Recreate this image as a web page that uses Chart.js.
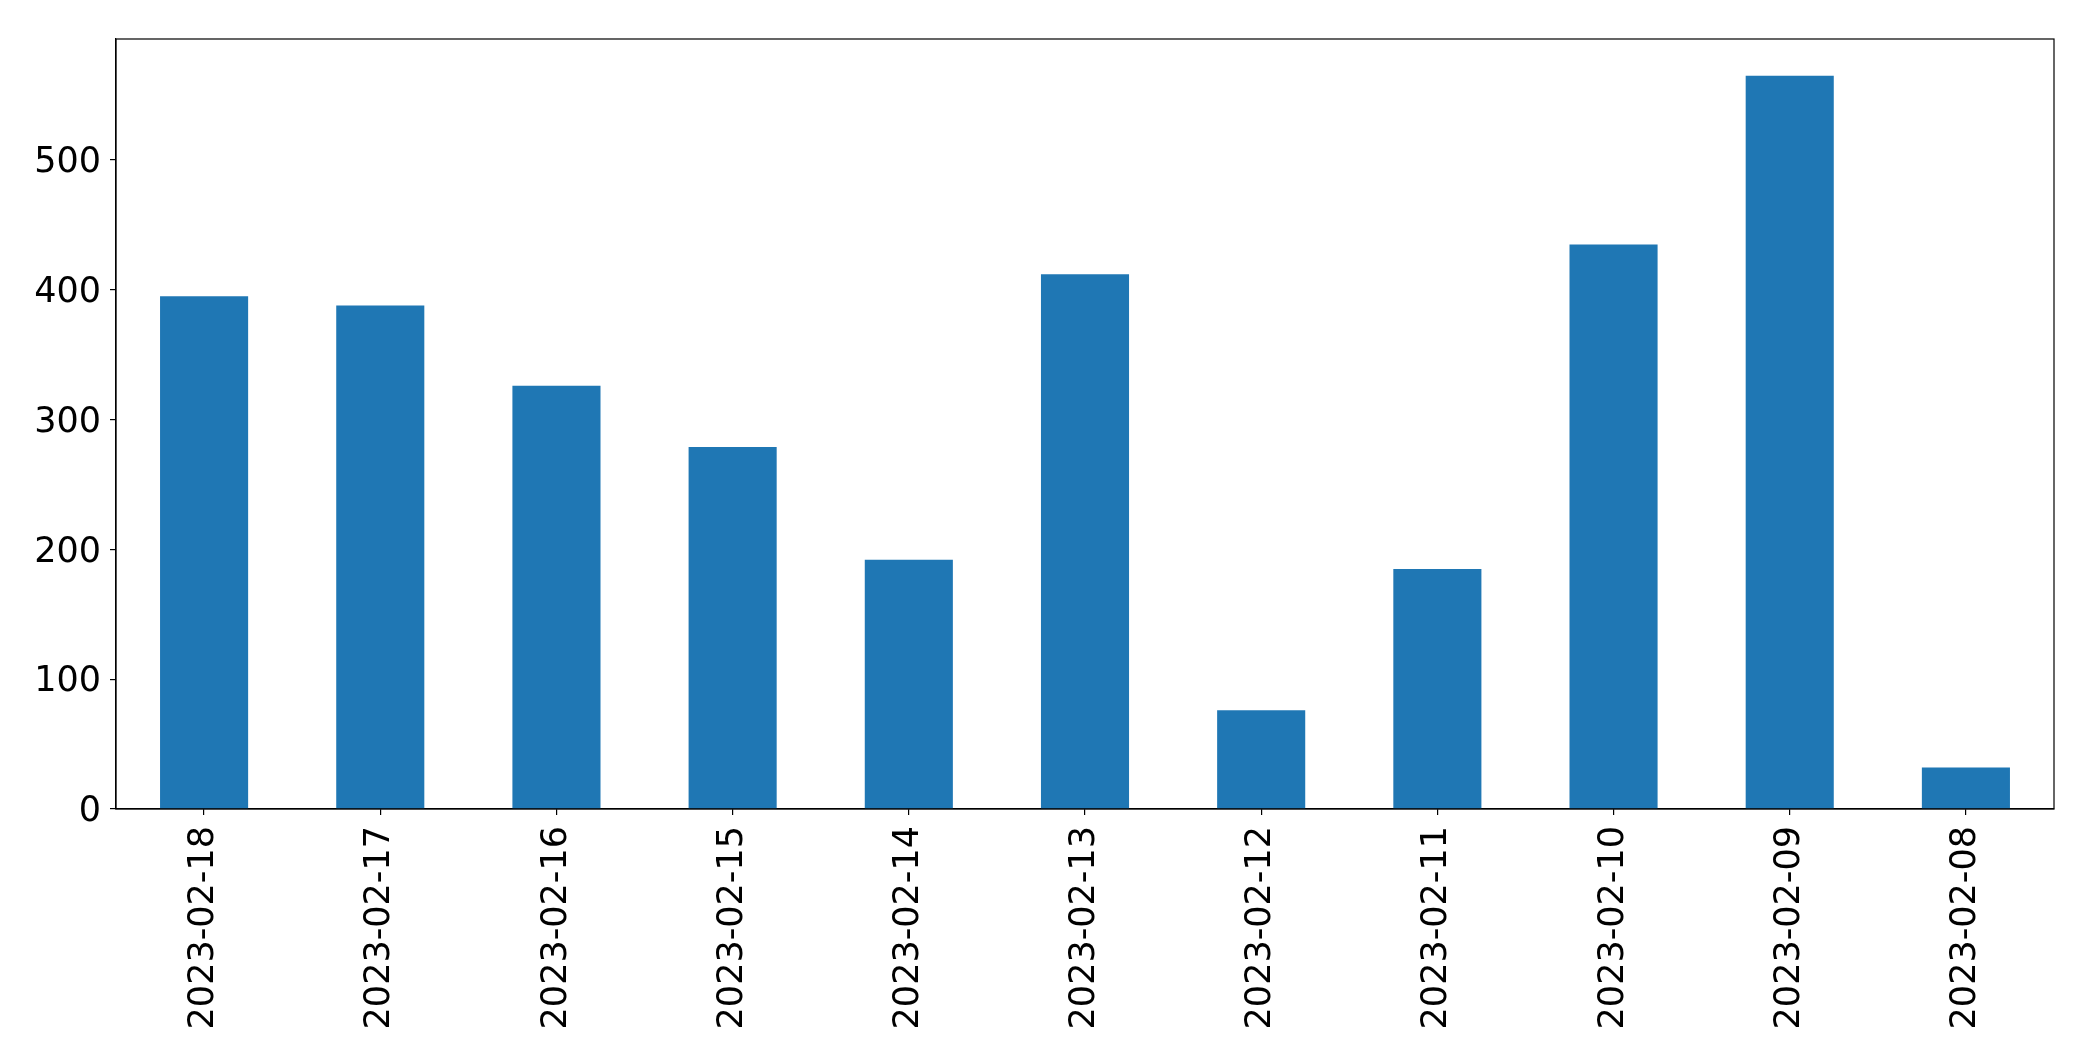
<!DOCTYPE html>
<html>
<head>
<meta charset="utf-8">
<script src="https://cdn.jsdelivr.net/npm/chart.js@4/dist/chart.umd.min.js"></script>
<style>
html,body{margin:0;padding:0;background:#fff;}
#c{display:block;}
</style>
</head>
<body>
<canvas id="c" width="2093" height="1061"></canvas>
<script>
const categories = ["2023-02-18","2023-02-17","2023-02-16","2023-02-15","2023-02-14","2023-02-13","2023-02-12","2023-02-11","2023-02-10","2023-02-09","2023-02-08"];
const values = [395, 388, 326, 279, 192, 412, 76, 185, 435, 565, 32];
const yTicks = [0, 100, 200, 300, 400, 500];

const frame = {
  id: 'frame',
  afterDatasetsDraw(chart) {
    const a = chart.chartArea, ctx = chart.ctx;
    ctx.save();
    ctx.strokeStyle = '#000';
    ctx.lineWidth = 1.2;
    ctx.strokeRect(a.left, a.top, a.right - a.left, a.bottom - a.top);
    ctx.restore();
  }
};

Chart.defaults.font.family = '"DejaVu Sans", sans-serif';
Chart.defaults.color = '#000';

new Chart(document.getElementById('c'), {
  type: 'bar',
  data: {
    labels: categories,
    datasets: [{
      data: values,
      backgroundColor: '#1f77b4',
      borderWidth: 0,
      barPercentage: 0.5,
      categoryPercentage: 1.0
    }]
  },
  options: {
    responsive: false,
    animation: false,
    layout: { padding: { top: 39, right: 39, bottom: 0, left: 0 } },
    plugins: { legend: { display: false }, tooltip: { enabled: false } },
    scales: {
      x: {
        offset: true,
        grid: { display: true, drawOnChartArea: false, offset: false, tickLength: 6, color: '#000', lineWidth: 1.2 },
        border: { display: true, color: '#000', width: 1.2 },
        ticks: { minRotation: 90, maxRotation: 90, autoSkip: false, padding: 11, font: { size: 35 }, color: '#000' },
        afterFit(s) { s.height = 252; }
      },
      y: {
        min: 0,
        max: 593.25,
        afterBuildTicks(s) { s.ticks = yTicks.map(v => ({ value: v })); },
        grid: { display: true, drawOnChartArea: false, tickLength: 6, color: '#000', lineWidth: 1.2 },
        border: { display: true, color: '#000', width: 1.2 },
        ticks: { padding: 9, labelOffset: 3, font: { size: 35 }, color: '#000' },
        afterFit(s) { s.width = 116; }
      }
    }
  },
  plugins: [frame]
});
</script>
</body>
</html>
